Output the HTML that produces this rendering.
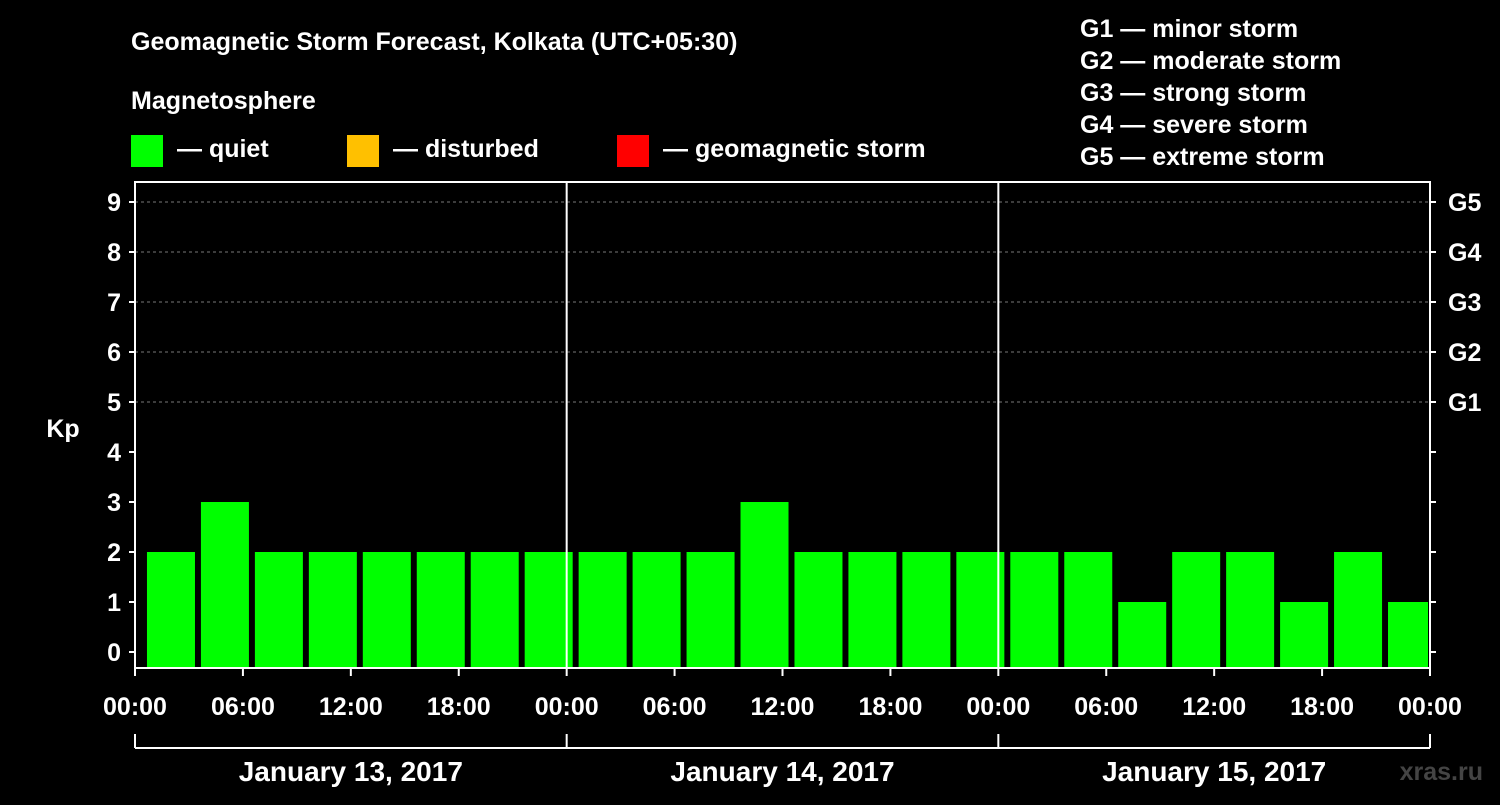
<!DOCTYPE html>
<html><head><meta charset="utf-8"><style>
body{margin:0;background:#000;width:1500px;height:800px;overflow:hidden}
svg text{font-family:"Liberation Sans",Arial,sans-serif;font-weight:bold;fill:#fff}
</style></head><body>
<svg id="chart" width="1500" height="800" xmlns="http://www.w3.org/2000/svg">
<rect width="1500" height="800" fill="#000"/>
<text x="131" y="50" font-size="25">Geomagnetic Storm Forecast, Kolkata (UTC+05:30)</text>
<text x="131" y="109" font-size="25">Magnetosphere</text>
<g><rect x="131" y="135" width="32" height="32" fill="#00ff00"/><text x="177" y="157" font-size="25">— quiet</text></g>
<g><rect x="347" y="135" width="32" height="32" fill="#ffc000"/><text x="393" y="157" font-size="25">— disturbed</text></g>
<g><rect x="617" y="135" width="32" height="32" fill="#ff0000"/><text x="663" y="157" font-size="25">— geomagnetic storm</text></g>
<g font-size="25">
<text x="1080" y="37">G1 — minor storm</text>
<text x="1080" y="69">G2 — moderate storm</text>
<text x="1080" y="101">G3 — strong storm</text>
<text x="1080" y="133">G4 — severe storm</text>
<text x="1080" y="165">G5 — extreme storm</text>
</g>
<g id="grid"></g><g id="bars"></g><g id="axes"></g>
<text x="63" y="437" font-size="25" text-anchor="middle">Kp</text>
<text x="1483" y="780" font-size="25" text-anchor="end" style="fill:#444">xras.ru</text>
</svg>
<script>
const kpValues=[2,3,2,2,2,2,2,2,2,2,2,3,2,2,2,2,2,2,1,2,2,1,2,1,2];
const barStartHour=0.5;
const yTicks=[0,1,2,3,4,5,6,7,8,9];
const gLabels=["","","","","","G1","G2","G3","G4","G5"];
const xTickLabels=["00:00","06:00","12:00","18:00","00:00","06:00","12:00","18:00","00:00","06:00","12:00","18:00","00:00"];
const dayLabels=["January 13, 2017","January 14, 2017","January 15, 2017"];
const L=135,R=1430,T=182,B=668;
const x=h=>L+h*(R-L)/72;
const y=v=>652-v*50;
const NS="http://www.w3.org/2000/svg";
function mk(tag,attrs,parent,txt){const e=document.createElementNS(NS,tag);for(const k in attrs)e.setAttribute(k,attrs[k]);if(txt!==undefined)e.textContent=txt;document.getElementById(parent).appendChild(e);return e;}
yTicks.forEach(v=>{if(v>=5){const g=mk('line',{x1:L,x2:R,y1:y(v),y2:y(v),stroke:'#777','stroke-dasharray':'3,3','stroke-width':1},'grid');

}});
kpValues.forEach((v,i)=>{const c=barStartHour+i*3+1.5;let x0=x(c)-24,x1=x(c)+24;x0=Math.max(x0,L+1);x1=Math.min(x1,R-2);
const col=v>=5?'#ff0000':(v>=4?'#ffc000':'#00ff00');
const b=mk('rect',{x:x0,y:y(v),width:x1-x0,height:B-y(v),fill:col},'bars');

});
[24,48].forEach(h=>{const l=mk('line',{x1:x(h),x2:x(h),y1:T,y2:B,stroke:'#fff','stroke-width':2},'axes');

});
const fr=mk('rect',{x:L,y:T,width:R-L,height:B-T,fill:'none',stroke:'#fff','stroke-width':2},'axes');


yTicks.forEach((v,i)=>{mk('line',{x1:L-6,x2:L,y1:y(v),y2:y(v),stroke:'#fff','stroke-width':2},'axes');
mk('line',{x1:R,x2:R+6,y1:y(v),y2:y(v),stroke:'#fff','stroke-width':2},'axes');
const t=mk('text',{x:L-14,y:y(v)+9,'font-size':25,'text-anchor':'end'},'axes',String(v));


if(gLabels[i]){const g=mk('text',{x:R+18,y:y(v)+9,'font-size':25},'axes',gLabels[i]);

}});
xTickLabels.forEach((s,i)=>{const h=i*6;mk('line',{x1:x(h),x2:x(h),y1:B,y2:B+8,stroke:'#fff','stroke-width':2},'axes');
const t=mk('text',{x:x(h),y:715,'font-size':25,'text-anchor':'middle'},'axes',s);

});
mk('line',{x1:L,x2:R,y1:748,y2:748,stroke:'#fff','stroke-width':2},'axes');
[0,24,48,72].forEach(h=>mk('line',{x1:x(h),x2:x(h),y1:734,y2:748,stroke:'#fff','stroke-width':2},'axes'));
dayLabels.forEach((s,i)=>{const t=mk('text',{x:x(i*24+12),y:781,'font-size':28,'text-anchor':'middle'},'axes',s);

});
</script>
</body></html>
